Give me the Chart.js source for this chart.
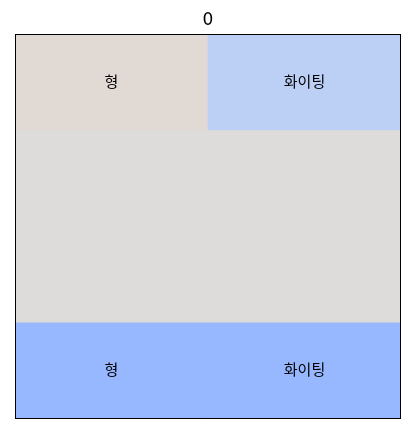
<!DOCTYPE html>
<html>
<head>
<meta charset="utf-8">
<script src="https://cdn.jsdelivr.net/npm/chart.js@4/dist/chart.umd.min.js"></script>
<style>
html,body{margin:0;padding:0;background:#fff;}
#wrap{width:409px;height:434px;}
</style>
</head>
<body>
<div id="wrap"><canvas id="c" width="409" height="434"></canvas></div>
<script>
// Grid columns and rows (rows listed top to bottom)
const columns = ['c0', 'c1'];
const rowNames = ['r0', 'r1', 'r2', 'r3'];
// Each cell occupies one unit of height
const cellHeights = [
  [1, 1],
  [1, 1],
  [1, 1],
  [1, 1]
];
// Cell annotation texts (top to bottom)
const cellTexts = [
  ['형', '화이팅'],
  ['', ''],
  ['', ''],
  ['형', '화이팅']
];
// Cell colours (top to bottom)
const cellColors = [
  ['#e1d9d4', '#bcd0f5'],
  ['#dddcdb', '#dddcdb'],
  ['#dddcdb', '#dddcdb'],
  ['#97b8ff', '#97b8ff']
];
const titleText = '0';

// Stacked bars are drawn bottom-up, so reverse the row order
const order = rowNames.map((_, i) => rowNames.length - 1 - i);
const datasets = order.map(r => ({
  label: rowNames[r],
  data: cellHeights[r],
  backgroundColor: cellColors[r],
  texts: cellTexts[r],
  borderWidth: 0,
  barPercentage: 1,
  categoryPercentage: 1
}));

const cellTextPlugin = {
  id: 'cellText',
  afterDatasetsDraw(chart) {
    const ctx = chart.ctx;
    ctx.save();
    ctx.fillStyle = '#000';
    ctx.font = '15px "Noto Sans CJK KR", "DejaVu Sans", sans-serif';
    ctx.textAlign = 'center';
    ctx.textBaseline = 'middle';
    chart.data.datasets.forEach((ds, di) => {
      const meta = chart.getDatasetMeta(di);
      meta.data.forEach((el, i) => {
        const t = ds.texts[i];
        if (!t) return;
        const props = el.getProps(['x', 'y', 'base'], true);
        ctx.fillText(t, props.x, (props.y + props.base) / 2 - 1.5);
      });
    });
    ctx.restore();
  },
  afterDraw(chart) {
    const a = chart.chartArea;
    const ctx = chart.ctx;
    ctx.save();
    ctx.strokeStyle = '#000';
    ctx.lineWidth = 1;
    ctx.strokeRect(Math.round(a.left) + 0.5, Math.round(a.top) + 0.5,
                   Math.round(a.right - a.left) - 1, Math.round(a.bottom - a.top) - 1);
    ctx.restore();
  }
};

new Chart(document.getElementById('c'), {
  type: 'bar',
  data: { labels: columns, datasets },
  options: {
    responsive: false,
    animation: false,
    devicePixelRatio: 1,
    layout: { padding: { left: 15, right: 8, top: 0, bottom: 15 } },
    plugins: {
      legend: { display: false },
      tooltip: { enabled: false },
      title: {
        display: true,
        text: titleText,
        color: '#000',
        font: { family: '"DejaVu Sans", sans-serif', size: 17, weight: 'normal', lineHeight: 1.2 },
        padding: { top: 10, bottom: 4 }
      }
    },
    scales: {
      x: { stacked: true, display: false, offset: true },
      y: { stacked: true, display: false, min: 0, max: 4 }
    }
  },
  plugins: [cellTextPlugin]
});
</script>
</body>
</html>
